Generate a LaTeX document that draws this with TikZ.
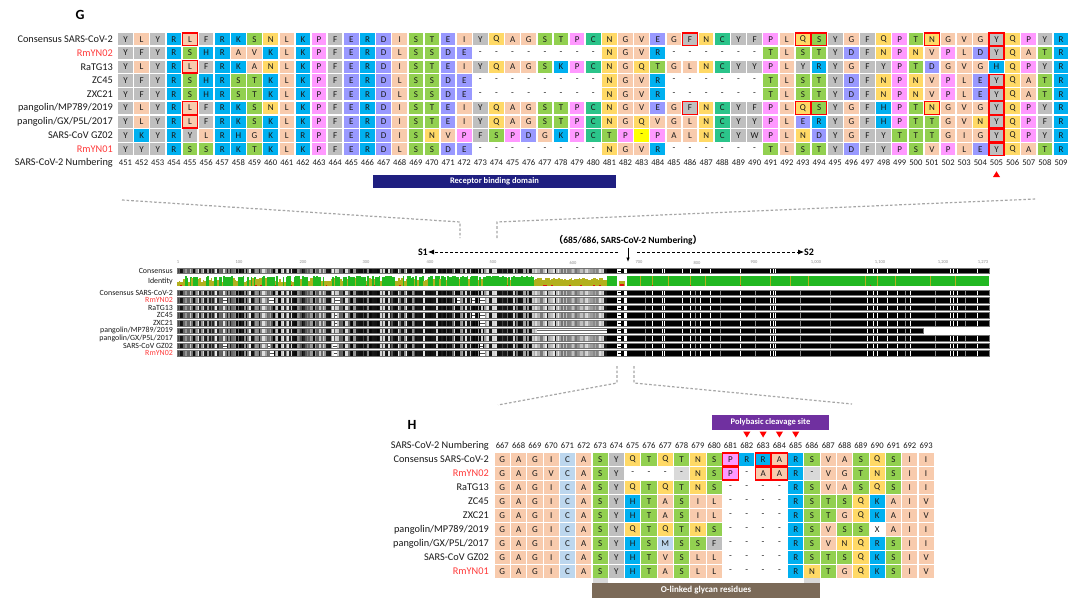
\documentclass[tikz,border=0pt]{standalone}
\usepackage{fontspec}
\setmainfont{Carlito}
\newfontfamily\cjk{Noto Sans CJK SC}
\usetikzlibrary{arrows.meta}
\definecolor{cGray}{HTML}{BFBFBF}
\definecolor{cPeach}{HTML}{F8CBAD}
\definecolor{cBlue}{HTML}{00B0F0}
\definecolor{cGreen}{HTML}{92D050}
\definecolor{cYellow}{HTML}{FFD966}
\definecolor{cPink}{HTML}{FF99FF}
\definecolor{cLav}{HTML}{9999FF}
\definecolor{cTeal}{HTML}{2BC48A}
\definecolor{cLBlue}{HTML}{BDD7EE}
\definecolor{cYel}{HTML}{FFFF00}
\definecolor{cLGray}{HTML}{D9D9D9}
\definecolor{txt}{HTML}{1A1A1A}
\definecolor{rmred}{HTML}{FF3B3B}
\definecolor{boxred}{HTML}{FF0000}
\definecolor{guidegray}{HTML}{A6A6A6}
\definecolor{rbdNavy}{HTML}{1F1F80}
\definecolor{cleavePurple}{HTML}{7030A0}
\definecolor{glycBrown}{HTML}{7B6A58}
\definecolor{idGreen}{HTML}{22B822}
\definecolor{idOlive}{HTML}{B3B01E}
\definecolor{idRed}{HTML}{E01010}
\makeatletter
\def\defaa#1#2#3{\@namedef{aacol@#1}{#2}\@namedef{aatxt@#1}{#3}}
\makeatother
\defaa{A}{cPeach}{A}\defaa{G}{cPeach}{G}\defaa{I}{cPeach}{I}\defaa{L}{cPeach}{L}\defaa{V}{cPeach}{V}
\defaa{Y}{cGray}{Y}\defaa{F}{cGray}{F}\defaa{W}{cGray}{W}
\defaa{R}{cBlue}{R}\defaa{K}{cBlue}{K}\defaa{H}{cBlue}{H}
\defaa{S}{cGreen}{S}\defaa{T}{cGreen}{T}
\defaa{N}{cYellow}{N}\defaa{Q}{cYellow}{Q}
\defaa{P}{cPink}{P}
\defaa{D}{cLav}{D}\defaa{E}{cLav}{E}
\defaa{C}{cTeal}{C}
\defaa{c}{cLBlue}{C}\defaa{m}{cLBlue}{M}
\defaa{x}{white}{X}
\defaa{g}{white}{-}\defaa{y}{cYel}{-}\defaa{w}{cLGray}{-}
\newcommand\ovgap[3]{\fill[white] (#2,{289.8+7.6*#1}) rectangle (#3,{295.4+7.6*#1});
  \draw[black!70, line width=0.4pt] (#2,{292.6+7.6*#1}) -- (#3,{292.6+7.6*#1});}
\begin{document}
\begin{tikzpicture}[x=1pt,y=-1pt,
  cellG/.style={minimum width=14.6pt, minimum height=12.2pt, inner sep=0pt, font=\fontsize{9}{9}\selectfont, text=txt},
  cellH/.style={minimum width=15.2pt, minimum height=12.8pt, inner sep=0pt, font=\fontsize{9}{9}\selectfont, text=txt},
  lab/.style={anchor=east, inner sep=0pt, font=\fontsize{10.3}{11}\selectfont, text=txt},
  ovlab/.style={anchor=east, inner sep=0pt, font=\fontsize{7.9}{8}\selectfont, text=txt},
  num/.style={inner sep=0pt, font=\fontsize{8.6}{9}\selectfont, text=txt},
  ruler/.style={inner sep=0pt, font=\fontsize{4.5}{5}\selectfont, text=black!45},
  redbox/.style={draw=boxred, line width=1.3pt},
  guide/.style={draw=guidegray, line width=1.2pt, dash pattern=on 2.6pt off 2pt},
  banner/.style={inner sep=0pt, text=white, font=\bfseries\fontsize{8.5}{9}\selectfont},
  sarrow/.style={draw=black, line width=0.8pt, dash pattern=on 3pt off 2pt, -{Latex[length=6pt,width=5pt]}},
  panel/.style={inner sep=0pt, font=\bfseries\fontsize{14}{14}\selectfont, text=black}]
\useasboundingbox (0,0) rectangle (1080,605);
\fill[white] (0,0) rectangle (1080,605);

% ================= Panel G =================
\node[panel] (Glab) at (80,15) {G};
\node[lab] (gl0) at (113,39.3) {Consensus SARS-CoV-2};
\node[lab, text=rmred] (gl1) at (113,53.05) {RmYN02};
\node[lab] (gl2) at (113,66.8) {RaTG13};
\node[lab] (gl3) at (113,80.55) {ZC45};
\node[lab] (gl4) at (113,94.3) {ZXC21};
\node[lab] (gl5) at (113,108.05) {pangolin/MP789/2019};
\node[lab] (gl6) at (113,121.8) {pangolin/GX/P5L/2017};
\node[lab] (gl7) at (113,135.55) {SARS-CoV GZ02};
\node[lab, text=rmred] (gl8) at (113,149.3) {RmYN01};
\node[lab] (gl9) at (113,163) {SARS-CoV-2 Numbering};

\foreach \seq [count=\rw from 0] in {
 {Y,L,Y,R,L,F,R,K,S,N,L,K,P,F,E,R,D,I,S,T,E,I,Y,Q,A,G,S,T,P,C,N,G,V,E,G,F,N,C,Y,F,P,L,Q,S,Y,G,F,Q,P,T,N,G,V,G,Y,Q,P,Y,R},
 {Y,F,Y,R,S,H,R,A,V,K,L,K,P,F,E,R,D,L,S,S,D,E,g,g,g,g,g,g,g,g,N,G,V,R,g,g,g,g,g,g,T,L,S,T,Y,D,F,N,P,N,V,P,L,D,Y,Q,A,T,R},
 {Y,L,Y,R,L,F,R,K,A,N,L,K,P,F,E,R,D,I,S,T,E,I,Y,Q,A,G,S,K,P,C,N,G,Q,T,G,L,N,C,Y,Y,P,L,Y,R,Y,G,F,Y,P,T,D,G,V,G,H,Q,P,Y,R},
 {Y,F,Y,R,S,H,R,S,T,K,L,K,P,F,E,R,D,L,S,S,D,E,g,g,g,g,g,g,g,g,N,G,V,R,g,g,g,g,g,g,T,L,S,T,Y,D,F,N,P,N,V,P,L,E,Y,Q,A,T,R},
 {Y,F,Y,R,S,H,R,S,T,K,L,K,P,F,E,R,D,L,S,S,D,E,g,g,g,g,g,g,g,g,N,G,V,R,g,g,g,g,g,g,T,L,S,T,Y,D,F,N,P,N,V,P,L,E,Y,Q,A,T,R},
 {Y,L,Y,R,L,F,R,K,S,N,L,K,P,F,E,R,D,I,S,T,E,I,Y,Q,A,G,S,T,P,C,N,G,V,E,G,F,N,C,Y,F,P,L,Q,S,Y,G,F,H,P,T,N,G,V,G,Y,Q,P,Y,R},
 {Y,L,Y,R,L,F,R,K,S,K,L,K,P,F,E,R,D,I,S,T,E,I,Y,Q,A,G,S,T,P,C,N,G,Q,V,G,L,N,C,Y,Y,P,L,E,R,Y,G,F,H,P,T,T,G,V,N,Y,Q,P,F,R},
 {Y,K,Y,R,Y,L,R,H,G,K,L,R,P,F,E,R,D,I,S,N,V,P,F,S,P,D,G,K,P,C,T,P,y,P,A,L,N,C,Y,W,P,L,N,D,Y,G,F,Y,T,T,T,G,I,G,Y,Q,P,Y,R},
 {Y,Y,Y,R,S,S,R,K,T,K,L,K,P,F,E,R,D,L,S,S,D,E,g,g,g,g,g,g,g,g,N,G,V,R,g,g,g,g,g,g,T,L,S,T,Y,D,F,Y,P,S,V,P,L,E,Y,Q,A,T,R}}{
  \foreach \ltr [count=\ci from 0] in \seq {
    \edef\fc{\csname aacol@\ltr\endcsname}
    \node[cellG, fill=\fc] (g\rw-\ci) at ({125.5+16.13*\ci},{39.3+13.75*\rw}) {\csname aatxt@\ltr\endcsname};
  }
}
\foreach \ci in {0,...,58}{
  \pgfmathtruncatemacro{\nn}{451+\ci}
  \node[num] (gn\ci) at ({125.5+16.13*\ci},163) {\nn};
}
\foreach \a/\b in {0/4,0/35,0/42,0/43,0/50,0/54,1/54,2/4,3/54,4/54,5/4,5/35,5/42,5/43,5/50,5/54,6/4,6/54,7/54,8/54}{
  \draw[redbox] (g\a-\b.north west) rectangle (g\a-\b.south east);
}
\node[banner, fill=rbdNavy, minimum width=243pt, minimum height=13pt] (rbd) at (494.5,181.5) {Receptor binding domain};
\fill[boxred] (993,177) -- (1000,177) -- (996.5,171.3) -- cycle;

% ================= guides =================
\coordinate (tl1) at (122,200); \coordinate (tl2) at (460,222); \coordinate (tl3) at (460,238);
\coordinate (tr1) at (497,238); \coordinate (tr2) at (497,222); \coordinate (tr3) at (1036,199);
\draw[guide] (tl1) -- (tl2) -- (tl3);
\draw[guide] (tr1) -- (tr2) -- (tr3);
\coordinate (bl1) at (617,366); \coordinate (bl2) at (617,383); \coordinate (bl3) at (498,405);
\coordinate (br1) at (634,366); \coordinate (br2) at (634,383); \coordinate (br3) at (852,404);
\draw[guide] (bl1) -- (bl2) -- (bl3);
\draw[guide] (br1) -- (br2) -- (br3);

% ================= Overview =================
\node[inner sep=0pt, font=\bfseries\fontsize{9.5}{10}\selectfont] (cleave) at (628,240.5) {{\cjk （}685/686, SARS-CoV-2 Numbering{\cjk ）}};
\coordinate (dtop) at (628,247.5); \coordinate (dbot) at (628,262);
\draw[line width=0.8pt, -{Latex[length=4.5pt,width=3.5pt]}] (dtop) -- (dbot);
\node[anchor=east, inner sep=0pt, font=\bfseries\fontsize{10}{10}\selectfont] (s1) at (428,252) {S1};
\node[anchor=west, inner sep=0pt, font=\bfseries\fontsize{10}{10}\selectfont] (s2) at (804,252) {S2};
\coordinate (la) at (618,252); \coordinate (ra) at (637,252);
\draw[sarrow] (la) -- (s1);
\draw[sarrow] (ra) -- (s2);

\node[ruler] (t1) at (178,262.5) {1};
\node[ruler] (t2) at (239,262.5) {100};
\node[ruler] (t3) at (303,262.5) {200};
\node[ruler] (t4) at (366,262.5) {300};
\node[ruler] (t5) at (430,262.5) {400};
\node[ruler] (t6) at (493,262.5) {500};
\node[ruler] (t7) at (573,262.5) {600};
\node[ruler] (t8) at (639,262.5) {700};
\node[ruler] (t9) at (697,262.5) {800};
\node[ruler] (t10) at (754,262.5) {900};
\node[ruler] (t11) at (816,262.5) {1,000};
\node[ruler] (t12) at (880,262.5) {1,100};
\node[ruler] (t13) at (943,262.5) {1,200};
\node[ruler] (t14) at (983,262.5) {1,273};

\node[ovlab] (ol0) at (173,271) {Consensus};
\node[ovlab] (ol1) at (173,281) {Identity};
\node[ovlab] (ol2) at (173,292.6) {Consensus SARS-CoV-2};
\node[ovlab, text=rmred] (ol3) at (173,300.2) {RmYN02};
\node[ovlab] (ol4) at (173,307.8) {RaTG13};
\node[ovlab] (ol5) at (173,315.4) {ZC45};
\node[ovlab] (ol6) at (173,323.0) {ZXC21};
\node[ovlab] (ol7) at (173,330.6) {pangolin/MP789/2019};
\node[ovlab] (ol8) at (173,338.2) {pangolin/GX/P5L/2017};
\node[ovlab] (ol9) at (173,345.8) {SARS-CoV GZ02};
\node[ovlab, text=rmred] (ol10) at (173,353.4) {RmYN02};

\pgfmathsetseed{11}
\foreach \k in {0,...,274}{
  \pgfmathsetmacro{\xx}{177+1.6*\k}
  \pgfmathsetmacro{\ru}{rnd}
  \pgfmathsetmacro{\rv}{rnd}
  \pgfmathtruncatemacro{\lev}{\xx<345 ? (\ru<0.3 ? 85+15*\rv : (\ru<0.8 ? 35+40*\rv : 8+15*\rv)) : (\xx<533 ? (\ru<0.62 ? 90+10*\rv : (\ru<0.85 ? 35+40*\rv : 8+15*\rv)) : (\xx<607 ? (\ru<0.12 ? 90 : (\ru<0.7 ? 25+30*\rv : 8+12*\rv)) : 100))}
  \fill[black!\lev] (\xx,268.5) rectangle ++(1.7,5);
  \fill[black!\lev] (\xx,289.8) rectangle ++(1.7,66.4);
}
\fill[black] (627,268.5) rectangle (989,273.5);
\fill[black] (627,289.8) rectangle (989,356.2);
\foreach \t in {652,662,664,682,690,700,710,740,770,773,775,867,873,877,887,897,910,950,953,957,977}{
  \fill[white] (\t,268.5) rectangle ++(0.9,5);
  \fill[white] (\t,289.8) rectangle ++(0.9,66.4);
}
\foreach \t in {645,695,720,755,800,830,905,935,965}{
  \fill[black!45] (\t,289.8) rectangle ++(0.8,66.4);
}
% cleavage marker
\fill[white] (617,268.5) rectangle (627,273.5);
\fill[white] (617,289.8) rectangle (627,356.2);
\foreach \g in {0,...,8}{
  \draw[black, line width=0.4pt] (617.5,{292.6+7.6*\g}) -- (621,{292.6+7.6*\g});
  \fill[black] (621,{289.8+7.6*\g}) rectangle (623.5,{295.4+7.6*\g});
}
\draw[black, line width=0.4pt] (617.5,271) -- (621,271);
\fill[black] (621,268.5) rectangle (623.5,273.5);
% row separators
\foreach \g in {0,...,7}{
  \fill[white] (176,{295.4+7.6*\g}) rectangle (990,{297.4+7.6*\g});
}
% gaps
\ovgap{1}{223}{227}\ovgap{1}{269}{274}\ovgap{1}{335}{340}\ovgap{1}{457}{459.5}\ovgap{1}{472}{474.5}\ovgap{1}{480}{485}
\ovgap{3}{335}{337}\ovgap{3}{472}{474.5}\ovgap{3}{480}{485}
\ovgap{4}{335}{337}\ovgap{4}{480}{485}
\ovgap{7}{223}{227}\ovgap{7}{268}{270}\ovgap{7}{333}{337}\ovgap{7}{480}{483}
\ovgap{8}{270}{274}\ovgap{8}{334}{336.5}\ovgap{8}{480}{485}
% MP789 row
\fill[white] (537,327.8) rectangle (607,333.4);
\draw[black!60, line width=0.4pt] (537,330.6) -- (607,330.6);
\fill[white] (923.5,327.6) rectangle (990,333.6);
% outlines
\draw[black!55, line width=0.3pt] (177,268.5) rectangle (989,273.5);
\foreach \g in {0,1,2,3,4,6,7,8}{
  \draw[black!55, line width=0.3pt] (177,{289.8+7.6*\g}) rectangle (989,{295.4+7.6*\g});
}
\draw[black!55, line width=0.3pt] (177,327.8) rectangle (923,333.4);

% identity
\foreach \k in {0,...,274}{
  \pgfmathsetmacro{\xx}{177+1.6*\k}
  \pgfmathsetmacro{\ru}{rnd}
  \pgfmathsetmacro{\rv}{rnd}
  \pgfmathsetmacro{\hh}{\xx<345 ? (\ru<0.5 ? 8.5+1.5*\rv : 3.5+5*\rv) : (\xx<533 ? (\ru<0.7 ? 9+1*\rv : 5+4*\rv) : (\xx<607 ? 6+2.5*\rv : 10))}
  \pgfmathtruncatemacro{\isg}{\hh>8.3 ? 1 : 0}
  \ifnum\isg=1 \def\cc{idGreen}\else\def\cc{idOlive}\fi
  \fill[\cc] (\xx,286) rectangle ++(1.7,-\hh);
  \pgfmathtruncatemacro{\isr}{(rnd<0.18) && (\isg<1) ? 1 : 0}
  \ifnum\isr=1 \fill[idRed] (\xx,286) rectangle ++(1.7,-1.3);\fi
}
\fill[idGreen] (627,276) rectangle (989,286);
\foreach \t in {640,652,668,690,705,740,770,790,808,865,877,895,930,955}{
  \fill[idOlive] (\t,276) rectangle ++(0.6,10);
}
\foreach \t in {652,690,740,870}{
  \fill[idRed] (\t,284.5) rectangle ++(0.7,1.5);
}
\fill[white] (617,276) rectangle (627,286);
\fill[idOlive] (619,281) rectangle (625,286);
\fill[idRed] (620,284) rectangle (624,286);

% ================= Panel H =================
\node[panel] (Hlab) at (412,425) {H};
\node[banner, fill=cleavePurple, minimum width=117.6pt, minimum height=15pt] (pcs) at (770.5,422.5) {Polybasic cleavage site};
\foreach \x in {746.8,763.1,779.4,795.7}{
  \fill[boxred] ({\x-3.6},431.5) -- ({\x+3.6},431.5) -- (\x,437.5) -- cycle;
}
\node[lab] (hl9) at (489,445.7) {SARS-CoV-2 Numbering};
\node[lab] (hl0) at (489,459.5) {Consensus SARS-CoV-2};
\node[lab, text=rmred] (hl1) at (489,473.5) {RmYN02};
\node[lab] (hl2) at (489,487.5) {RaTG13};
\node[lab] (hl3) at (489,501.5) {ZC45};
\node[lab] (hl4) at (489,515.5) {ZXC21};
\node[lab] (hl5) at (489,529.5) {pangolin/MP789/2019};
\node[lab] (hl6) at (489,543.5) {pangolin/GX/P5L/2017};
\node[lab] (hl7) at (489,557.5) {SARS-CoV GZ02};
\node[lab, text=rmred] (hl8) at (489,571.5) {RmYN01};
\foreach \ci in {0,...,26}{
  \pgfmathtruncatemacro{\nn}{667+\ci}
  \node[num] (hn\ci) at ({502.3+16.3*\ci},445.7) {\nn};
}
\foreach \seq [count=\rw from 0] in {
 {G,A,G,I,c,A,S,Y,Q,T,Q,T,N,S,P,R,R,A,R,S,V,A,S,Q,S,I,I},
 {G,A,G,V,c,A,S,Y,g,g,g,w,N,S,P,g,A,A,R,w,V,G,T,N,S,I,I},
 {G,A,G,I,c,A,S,Y,Q,T,Q,T,N,S,g,g,g,g,R,S,V,A,S,Q,S,I,I},
 {G,A,G,I,c,A,S,Y,H,T,A,S,I,L,g,g,g,g,R,S,T,S,Q,K,A,I,V},
 {G,A,G,I,c,A,S,Y,H,T,A,S,I,L,g,g,g,g,R,S,T,G,Q,K,A,I,V},
 {G,A,G,I,c,A,S,Y,Q,T,Q,T,N,S,g,g,g,g,R,S,V,S,S,x,A,I,I},
 {G,A,G,I,c,A,S,Y,H,S,m,S,S,F,g,g,g,g,R,S,V,N,Q,R,S,I,I},
 {G,A,G,I,c,A,S,Y,H,T,V,S,L,L,g,g,g,g,R,S,T,S,Q,K,S,I,V},
 {G,A,G,I,c,A,S,Y,H,T,A,S,L,L,g,g,g,g,R,N,T,G,Q,K,S,I,V}}{
  \foreach \ltr [count=\ci from 0] in \seq {
    \edef\fc{\csname aacol@\ltr\endcsname}
    \node[cellH, fill=\fc] (h\rw-\ci) at ({502.3+16.3*\ci},{459.5+14*\rw}) {\csname aatxt@\ltr\endcsname};
  }
}
\foreach \a/\b in {0/14,0/16,0/17,1/14,1/16,1/17}{
  \draw[redbox] (h\a-\b.north west) rectangle (h\a-\b.south east);
}
\fill[cLGray] (592.5,578.3) rectangle (607.7,583);
\fill[cLGray] (804.4,578.3) rectangle (819.6,583);
\node[banner, fill=glycBrown, minimum width=228pt, minimum height=15pt, font=\bfseries\fontsize{9}{9}\selectfont] (olg) at (706,590.5) {O-linked glycan residues};
\end{tikzpicture}
\end{document}
